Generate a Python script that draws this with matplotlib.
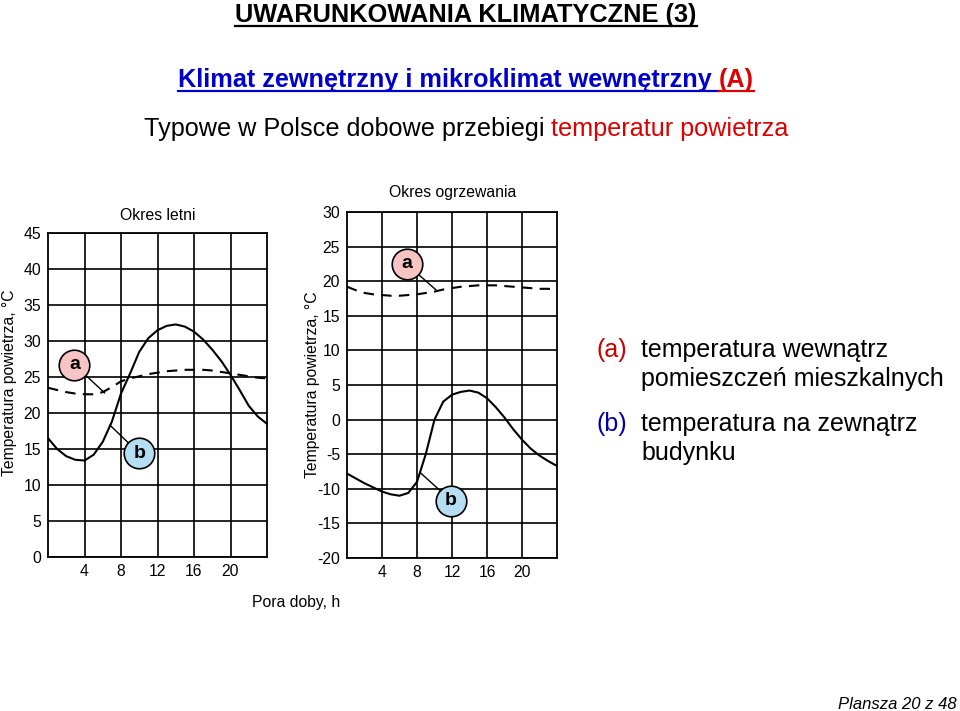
import matplotlib
matplotlib.use('Agg')
import matplotlib.pyplot as plt
from matplotlib.lines import Line2D

plt.rcParams['axes.unicode_minus'] = False

# hour of the day, 0..24
hours = list(range(25))

# summer (Okres letni)
summer_out = [16.5, 15.0, 14.0, 13.5, 13.4, 14.2, 16.0, 18.8, 22.7, 25.5, 28.5, 30.4, 31.5,
              32.1, 32.3, 32.0, 31.3, 30.2, 28.8, 27.2, 25.3, 23.2, 21.0, 19.5, 18.5]
summer_in = [23.5, 23.2, 22.9, 22.7, 22.6, 22.6, 22.9, 23.6, 24.4, 24.8, 25.1, 25.4, 25.6,
             25.8, 25.9, 26.0, 26.0, 26.0, 25.9, 25.7, 25.5, 25.3, 25.1, 24.9, 24.8]

# heating season (Okres ogrzewania)
winter_out = [-7.8, -8.5, -9.2, -9.8, -10.4, -10.8, -11.0, -10.6, -9.0, -5.0, 0.0, 2.6, 3.6,
              4.0, 4.2, 3.9, 3.1, 1.8, 0.3, -1.4, -2.9, -4.2, -5.2, -6.0, -6.7]
winter_in = [19.2, 18.7, 18.3, 18.1, 18.0, 17.9, 17.9, 18.0, 18.1, 18.3, 18.5, 18.8, 19.0,
             19.2, 19.3, 19.4, 19.4, 19.4, 19.3, 19.2, 19.1, 19.0, 18.9, 18.9, 18.8]

xticks = [4, 8, 12, 16, 20]
summer_yticks = list(range(0, 50, 5))
winter_yticks = list(range(-20, 35, 5))

# label bubbles: (text, circle position, point on curve)
summer_bubbles = [('a', (2.9, 26.7), (6.2, 22.8)), ('b', (10.0, 14.4), (6.8, 18.3))]
winter_bubbles = [('a', (6.8, 22.5), (10.3, 18.6)), ('b', (11.9, -11.7), (8.4, -7.7))]
bubble_colors = {'a': '#f7c4c4', 'b': '#b6def2'}

W, H = 960, 711
SANS = ['Liberation Sans', 'DejaVu Sans']
CHART_FS = 11.3

fig = plt.figure(figsize=(W / 100, H / 100), dpi=100)
renderer = fig.canvas.get_renderer()


def px(x, y):
    return x / W, 1 - y / H


def colored_line(parts, cx, base_y, size, weight='normal', underline=False):
    texts = []
    for s, c in parts:
        t = fig.text(0, 1 - base_y / H, s, color=c, fontsize=size, weight=weight,
                     family=SANS, ha='left', va='baseline')
        texts.append(t)
    widths = [t.get_window_extent(renderer).width for t in texts]
    x = cx - sum(widths) / 2
    for t, w in zip(texts, widths):
        t.set_x(x / W)
        if underline:
            uy = 1 - (base_y + 3.5) / H
            fig.add_artist(Line2D([x / W, (x + w) / W], [uy, uy], color=t.get_color(), lw=1.6))
        x += w


def panel(rect, y_in, y_out, ylim, yticks, bubbles):
    ax = fig.add_axes(rect)
    ax.plot(hours, y_out, color='black', lw=1.5, zorder=3)
    ax.plot(hours, y_in, color='black', lw=1.5, dashes=(5, 3.5), zorder=3)
    for lab, (bx, by), (tx, ty) in bubbles:
        ax.plot([bx, tx], [by, ty], color='black', lw=1.0, zorder=4)
        ax.plot(bx, by, 'o', ms=22, mfc=bubble_colors[lab], mec='black', mew=1.2, zorder=5)
        ax.text(bx, by, lab, ha='center', va='center', fontsize=14, weight='bold',
                family=SANS, zorder=6)
    ax.set_xlim(0, 24)
    ax.set_ylim(*ylim)
    ax.set_xticks(xticks)
    ax.set_yticks(yticks)
    ax.grid(True, color='black', lw=1.2)
    ax.set_axisbelow(True)
    ax.tick_params(length=0, pad=5, labelsize=CHART_FS)
    for lbl in ax.get_xticklabels() + ax.get_yticklabels():
        lbl.set_family(SANS)
    for s in ax.spines.values():
        s.set_linewidth(1.3)
    return ax


panel([48 / W, 1 - 557 / H, 219 / W, 324 / H], summer_in, summer_out, (0, 45),
      summer_yticks, summer_bubbles)
panel([347 / W, 1 - 558 / H, 210 / W, 346 / H], winter_in, winter_out, (-20, 30),
      winter_yticks, winter_bubbles)

# axis titles
fig.text(*px(158, 215), 'Okres letni', ha='center', va='center', fontsize=CHART_FS, family=SANS)
fig.text(*px(453, 193), 'Okres ogrzewania', ha='center', va='center', fontsize=CHART_FS,
         family=SANS)
fig.text(*px(296, 603), 'Pora doby, h', ha='center', va='center', fontsize=CHART_FS, family=SANS)
fig.text(*px(10, 383), 'Temperatura powietrza, °C', ha='center', va='center', rotation=90,
         fontsize=CHART_FS, family=SANS)
fig.text(*px(313, 385), 'Temperatura powietrza, °C', ha='center', va='center', rotation=90,
         fontsize=CHART_FS, family=SANS)

# headers
colored_line([('UWARUNKOWANIA KLIMATYCZNE (3)', 'black')], 466, 22, 18.3, weight='bold',
             underline=True)
colored_line([('Klimat zewnętrzny i mikroklimat wewnętrzny ', '#0000cc'), ('(A)', '#dd0000')],
             466, 87, 18.2, weight='bold', underline=True)
colored_line([('Typowe w Polsce dobowe przebiegi ', 'black'), ('temperatur powietrza', '#dd0000')],
             466, 136, 18.2)

# legend text
fig.text(*px(596, 357), '(a)', color='#cc0000', fontsize=18, family=SANS, va='baseline')
fig.text(*px(641, 357), 'temperatura wewnątrz', fontsize=18, family=SANS, va='baseline')
fig.text(*px(641, 386), 'pomieszczeń mieszkalnych', fontsize=18, family=SANS, va='baseline')
fig.text(*px(596, 431), '(b)', color='#0000aa', fontsize=18, family=SANS, va='baseline')
fig.text(*px(641, 431), 'temperatura na zewnątrz', fontsize=18, family=SANS, va='baseline')
fig.text(*px(641, 460), 'budynku', fontsize=18, family=SANS, va='baseline')

fig.text(*px(957, 709), 'Plansza 20 z 48', ha='right', va='baseline', fontsize=12,
         style='italic', family=SANS)

fig.savefig('out.png', dpi=100)
